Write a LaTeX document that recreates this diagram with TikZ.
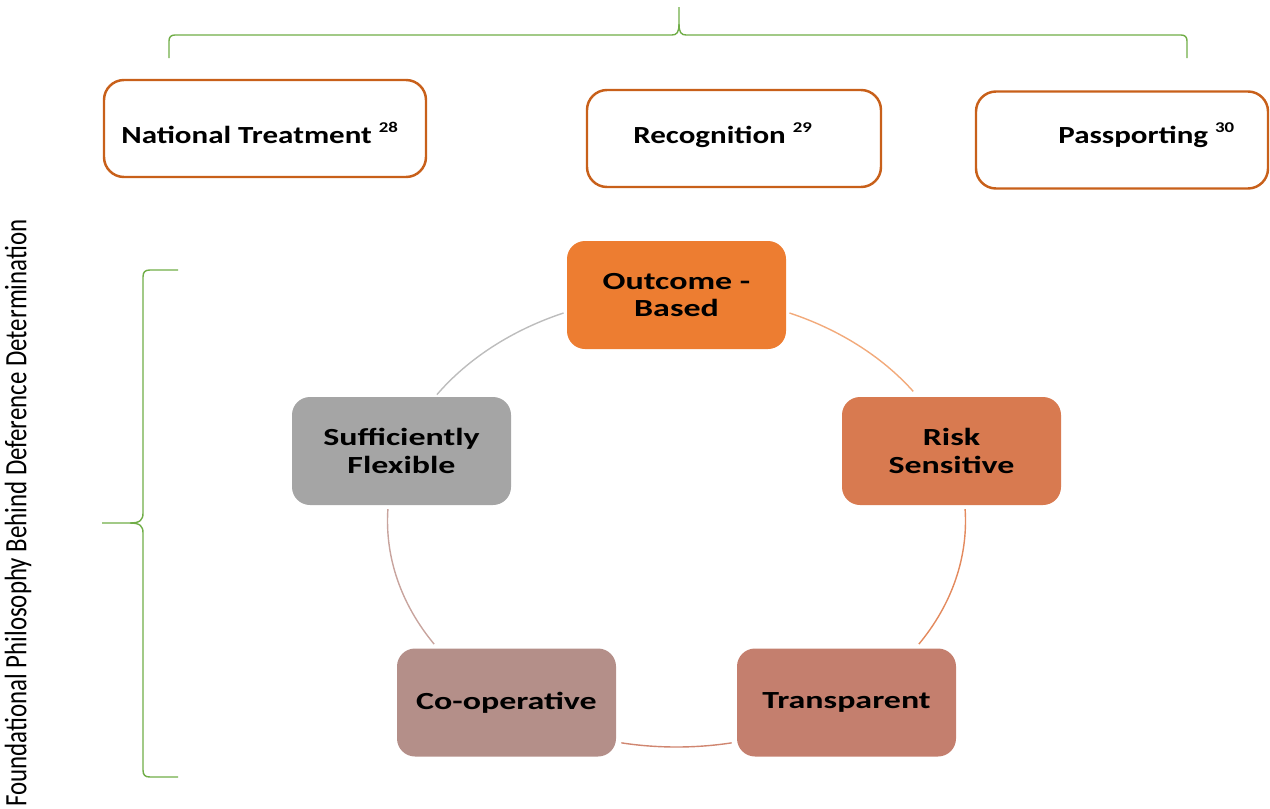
\documentclass[tikz,border=0pt]{standalone}
\usepackage{fontspec}
\setmainfont{Carlito}[FakeStretch=1.26]
\newfontfamily\sidefont{Carlito}[FakeStretch=0.8]
\newfontfamily\cycfont{Carlito}[FakeStretch=1.38]
\usetikzlibrary{positioning}
\definecolor{braceg}{HTML}{70AD47}
\definecolor{topline}{HTML}{C8601A}
\definecolor{cOb}{HTML}{ED7D31}
\definecolor{cRs}{HTML}{D87A50}
\definecolor{cTp}{HTML}{C47F6E}
\definecolor{cCo}{HTML}{B48F89}
\definecolor{cSf}{HTML}{A5A5A5}
\definecolor{aOb}{HTML}{F2AA7B}
\definecolor{aRs}{HTML}{E38A5E}
\definecolor{aTp}{HTML}{D08670}
\definecolor{aCo}{HTML}{C8A49E}
\definecolor{aSf}{HTML}{BDBDBD}
\newcommand\fnmark[1]{\raisebox{0.42em}{\fontsize{8.5}{9}\selectfont #1}}

\begin{document}
\begin{tikzpicture}[
  topbox/.style={draw=topline, line width=1.4pt, rounded corners=0.4cm, minimum height=1.94cm},
  toptext/.style={anchor=base west, inner sep=0pt, font=\fontsize{14}{17}\selectfont\bfseries},
  cyc/.style={rounded corners=0.36cm, minimum width=4.38cm, minimum height=2.16cm, align=center,
    font=\cycfont\fontsize{14}{15.5}\selectfont\bfseries},
  ring/.style={line width=0.8pt},
  brace/.style={draw=braceg, line width=0.8pt}]
\useasboundingbox (0,0) rectangle (25.4,-16.16);

% top brace
\draw[brace] (3.38,-1.16) -- (3.38,-0.82) .. controls (3.38,-0.74) and (3.42,-0.70) .. (3.50,-0.70)
  -- (13.44,-0.70) .. controls (13.54,-0.70) and (13.58,-0.64) .. (13.58,-0.48) -- (13.58,-0.14);
\draw[brace] (13.58,-0.48) .. controls (13.58,-0.64) and (13.62,-0.70) .. (13.72,-0.70)
  -- (23.62,-0.70) .. controls (23.70,-0.70) and (23.74,-0.74) .. (23.74,-0.82) -- (23.74,-1.16);

% the three approaches
\node[topbox, minimum width=6.44cm] (nt) at (5.30,-2.57) {};
\node[topbox, minimum width=5.88cm] (rec) at (14.68,-2.77) {};
\node[topbox, minimum width=5.84cm] (pass) at (22.44,-2.80) {};
\node[toptext] (ntt) at (2.42,-2.86) {National Treatment \fnmark{28}};
\node[toptext] (rect) at (12.66,-2.86) {Recognition \fnmark{29}};
\node[toptext] (passt) at (21.16,-2.86) {Passporting \fnmark{30}};

% side label and brace
\node[rotate=90, font=\sidefont\fontsize{17.7}{20}\selectfont] (phil) at (0.36,-10.26)
  {Foundational Philosophy Behind Deference Determination};
\draw[brace] (3.56,-5.40) -- (3.00,-5.40) .. controls (2.90,-5.40) and (2.86,-5.44) .. (2.86,-5.54)
  -- (2.86,-10.26) .. controls (2.86,-10.40) and (2.80,-10.46) .. (2.60,-10.46) -- (2.04,-10.46);
\draw[brace] (2.60,-10.46) .. controls (2.80,-10.46) and (2.86,-10.52) .. (2.86,-10.66)
  -- (2.86,-15.40) .. controls (2.86,-15.50) and (2.90,-15.54) .. (3.00,-15.54) -- (3.56,-15.54);

% cycle
\coordinate (mid) at (13.53,-10.42);
\node[cyc, fill=cOb] (ob) at (13.53,-5.90) {Outcome -\\Based};
\node[cyc, fill=cRs] (rs) at (19.03,-9.02) {Risk\\Sensitive};
\node[cyc, fill=cTp] (tp) at (16.93,-14.05) {Transparent};
\node[cyc, fill=cCo] (co) at (10.13,-14.05) {Co-operative};
\node[cyc, fill=cSf] (sf) at (8.03,-9.02) {Sufficiently\\Flexible};

\draw[ring, draw=aOb] ([shift={(67:5.78cm and 4.52cm)}]mid) arc[start angle=67, end angle=35, x radius=5.78cm, y radius=4.52cm];
\draw[ring, draw=aRs] ([shift={(3:5.78cm and 4.52cm)}]mid) arc[start angle=3, end angle=-33, x radius=5.78cm, y radius=4.52cm];
\draw[ring, draw=aTp] ([shift={(-79:5.78cm and 4.52cm)}]mid) arc[start angle=-79, end angle=-101, x radius=5.78cm, y radius=4.52cm];
\draw[ring, draw=aCo] ([shift={(-147:5.78cm and 4.52cm)}]mid) arc[start angle=-147, end angle=-183, x radius=5.78cm, y radius=4.52cm];
\draw[ring, draw=aSf] ([shift={(146:5.78cm and 4.52cm)}]mid) arc[start angle=146, end angle=113, x radius=5.78cm, y radius=4.52cm];
\end{tikzpicture}
\end{document}
